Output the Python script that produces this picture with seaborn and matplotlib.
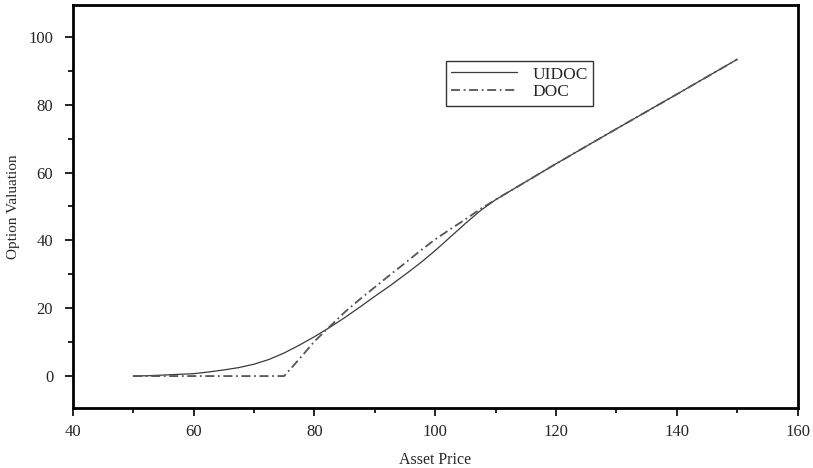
import numpy as np
import pandas as pd
import matplotlib
matplotlib.use("Agg")
import matplotlib.pyplot as plt
import seaborn as sns
from matplotlib.ticker import MultipleLocator

# Werte
asset_uidoc = [50, 52.5, 55, 57.5, 60, 62.5, 65, 67.5, 70, 72.5, 75, 77.5, 80, 82.5, 85, 87.5,
               90, 92.5, 95, 97.5, 100, 102.5, 105, 107.5, 110, 115, 120, 130, 140, 150]
uidoc = [0.0, 0.1, 0.3, 0.5, 0.7, 1.2, 1.8, 2.5, 3.5, 4.9, 6.8, 9.1, 11.6, 14.3, 17.2, 20.3,
         23.5, 26.6, 29.9, 33.3, 37.0, 41.0, 45.0, 48.8, 52.0, 57.3, 62.6, 72.9, 83.1, 93.4]

asset_doc = [50, 55, 60, 65, 70, 75, 77.5, 80, 82.5, 85, 87.5, 90, 92.5, 95, 97.5, 100,
             102.5, 105, 107.5, 110, 115, 120, 130, 140, 150]
doc = [0.0, 0.0, 0.0, 0.0, 0.0, 0.0, 5.0, 10.2, 14.5, 18.8, 22.6, 26.2, 29.8, 33.3, 36.9, 40.3,
       43.3, 46.2, 49.3, 52.0, 57.3, 62.6, 72.9, 83.1, 93.4]

df_uidoc = pd.DataFrame({"asset": asset_uidoc, "value": uidoc})
df_doc = pd.DataFrame({"asset": asset_doc, "value": doc})

sns.set_style("ticks")
plt.rcParams['font.family'] = ['Liberation Serif', 'DejaVu Serif']

fig = plt.figure(figsize=(8.13, 4.68), dpi=100)
ax = fig.add_axes([0.0894, 0.1276, 0.8918, 0.8624])

sns.lineplot(data=df_uidoc, x="asset", y="value", ax=ax, color="#3a3a3a",
             linewidth=0.9, label="UIDOC", estimator=None, sort=False)
sns.lineplot(data=df_doc, x="asset", y="value", ax=ax, color="#555555",
             linewidth=1.3, linestyle=(0, (5, 2, 1, 2)), label="DOC",
             estimator=None, sort=False)

ax.set_xlim(40, 160)
ax.set_ylim(-9.5, 109.5)
ax.xaxis.set_major_locator(MultipleLocator(20))
ax.xaxis.set_minor_locator(MultipleLocator(10))
ax.yaxis.set_major_locator(MultipleLocator(20))
ax.yaxis.set_minor_locator(MultipleLocator(10))
ax.tick_params(which="major", direction="out", length=6, width=1.2, labelsize=12, color="black")
ax.tick_params(which="minor", direction="out", length=3.5, width=1.2, color="black")
ax.tick_params(axis="y", pad=8)
ax.tick_params(axis="x", pad=5)

for s in ax.spines.values():
    s.set_visible(True)
    s.set_linewidth(2)
    s.set_color("black")

ax.set_xlabel("Asset Price", fontsize=11.5, labelpad=9)
ax.set_ylabel("Option Valuation", fontsize=11, labelpad=6)

leg = ax.legend(loc="upper left", bbox_to_anchor=(0.515, 0.86), frameon=True,
                fancybox=False, fontsize=12.5, handlelength=3.8, borderpad=0.3,
                labelspacing=0.1, handletextpad=0.9, borderaxespad=0)
leg.get_frame().set_edgecolor("black")
leg.get_frame().set_linewidth(1.0)

fig.savefig("out.png", dpi=100)
